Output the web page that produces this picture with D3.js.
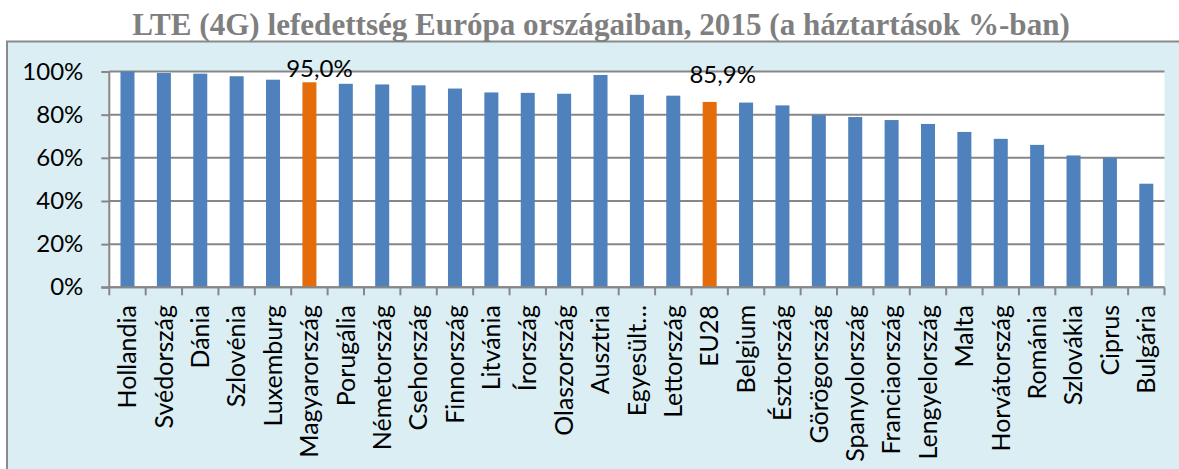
<!DOCTYPE html>
<html>
<head>
<meta charset="utf-8">
<script src="https://cdn.jsdelivr.net/npm/d3@7.9.0/dist/d3.min.js"></script>
<style>
  html, body { margin: 0; padding: 0; background: #fff; }
  svg { display: block; }
  text { font-family: Lato, "Noto Sans", sans-serif; fill: #000; }
</style>
</head>
<body>
<svg id="chart" width="1179" height="469"></svg>
<script>
// chart data
const countries = ["Hollandia", "Svédország", "Dánia", "Szlovénia", "Luxemburg", "Magyarország",
  "Porugália", "Németország", "Csehország", "Finnország", "Litvánia", "Írország", "Olaszország",
  "Ausztria", "Egyesült…", "Lettország", "EU28", "Belgium", "Észtország", "Görögország",
  "Spanyolország", "Franciaország", "Lengyelország", "Malta", "Horvátország", "Románia",
  "Szlovákia", "Ciprus", "Bulgária"];
const coverage = [100, 99.3, 99.0, 97.8, 96.2, 95.0, 94.3, 94.0, 93.6, 92.1, 90.3, 90.1, 89.7,
  98.4, 89.2, 88.8, 85.9, 85.6, 84.3, 79.8, 78.9, 77.5, 75.7, 72.0, 68.8, 66.0, 61.1, 60.0, 48.0];
const highlighted = ["Magyarország", "EU28"];
const yTicks = [0, 20, 40, 60, 80, 100];
const title = "LTE (4G) lefedettség Európa országaiban, 2015 (a háztartások %-ban)";

const svg = d3.select('#chart');

// outer frame (light blue panel, cut off at right/bottom)
svg.append('rect')
  .attr('x', 7).attr('y', 41.5)
  .attr('width', 1200).attr('height', 500)
  .attr('fill', '#daeef3')
  .attr('stroke', '#8a8a8a')
  .attr('stroke-width', 2);

// title, stretched to the width it has in the original
const titleText = svg.append('text')
  .attr('x', 601).attr('y', 35)
  .attr('text-anchor', 'middle')
  .style('font-family', '"Liberation Serif", "DejaVu Serif", serif')
  .style('font-weight', 'bold')
  .style('font-size', '30px')
  .style('fill', '#7f7f7f')
  .text(title);
const tw = titleText.node().getComputedTextLength();
titleText.style('font-size', (30 * 938 / tw).toFixed(1) + 'px');

const plot = { left: 109.3, right: 1164.5, top: 71.5, bottom: 287.3 };

const x = d3.scaleBand()
  .domain(countries)
  .range([plot.left, plot.right])
  .paddingInner(0.615)
  .paddingOuter(0.3075);

const y = d3.scaleLinear()
  .domain([0, 100])
  .range([plot.bottom, plot.top]);

// plot background
svg.append('rect')
  .attr('x', plot.left).attr('y', plot.top)
  .attr('width', plot.right - plot.left)
  .attr('height', plot.bottom - plot.top)
  .attr('fill', '#fff');

// gridlines
svg.append('g')
  .selectAll('line')
  .data(yTicks)
  .join('line')
  .attr('x1', plot.left).attr('x2', plot.right)
  .attr('y1', d => y(d)).attr('y2', d => y(d))
  .attr('stroke', '#878787')
  .attr('stroke-width', 2);

// bars
svg.append('g')
  .selectAll('rect')
  .data(countries)
  .join('rect')
  .attr('x', d => x(d))
  .attr('width', x.bandwidth())
  .attr('y', (d, i) => y(coverage[i]))
  .attr('height', (d, i) => y(0) - y(coverage[i]))
  .attr('fill', d => highlighted.includes(d) ? '#e46c0a' : '#4f81bd');

// y axis
const yAxis = svg.append('g')
  .attr('transform', `translate(${plot.left},0)`)
  .call(d3.axisLeft(y).tickValues(yTicks).tickFormat(d => d + '%').tickSize(8).tickPadding(18));
yAxis.selectAll('line, path').attr('stroke', '#878787').attr('stroke-width', 2);
yAxis.select('.domain').attr('d', `M0,${plot.top}V${plot.bottom}`);
yAxis.selectAll('text')
  .style('font-family', 'Lato, sans-serif')
  .style('font-size', '24px')
  .attr('fill', '#000');

// x axis line + boundary ticks
const half = (x.step() - x.bandwidth()) / 2;
const bounds = countries.map(d => x(d) - half).concat([plot.right]);
svg.append('line')
  .attr('x1', plot.left - 8).attr('x2', plot.right)
  .attr('y1', plot.bottom).attr('y2', plot.bottom)
  .attr('stroke', '#878787').attr('stroke-width', 2);
svg.append('g')
  .selectAll('line')
  .data(bounds)
  .join('line')
  .attr('x1', d => d).attr('x2', d => d)
  .attr('y1', plot.bottom).attr('y2', plot.bottom + 8)
  .attr('stroke', '#878787').attr('stroke-width', 2);

// category labels (rotated)
svg.append('g')
  .selectAll('text')
  .data(countries)
  .join('text')
  .attr('transform', d => `translate(${x(d) + x.bandwidth() / 2},305) rotate(-90)`)
  .attr('text-anchor', 'end')
  .attr('dy', '0.35em')
  .style('font-size', '25px')
  .text(d => d);

// data labels for highlighted bars
const labelShift = { "Magyarország": [10, -5], "EU28": [13, -19] };
svg.append('g')
  .selectAll('text')
  .data(highlighted)
  .join('text')
  .attr('x', d => x(d) + x.bandwidth() / 2 + labelShift[d][0])
  .attr('y', d => y(coverage[countries.indexOf(d)]) + labelShift[d][1])
  .attr('text-anchor', 'middle')
  .style('font-size', '24px')
  .text(d => coverage[countries.indexOf(d)].toFixed(1).replace('.', ',') + '%');
</script>
</body>
</html>
